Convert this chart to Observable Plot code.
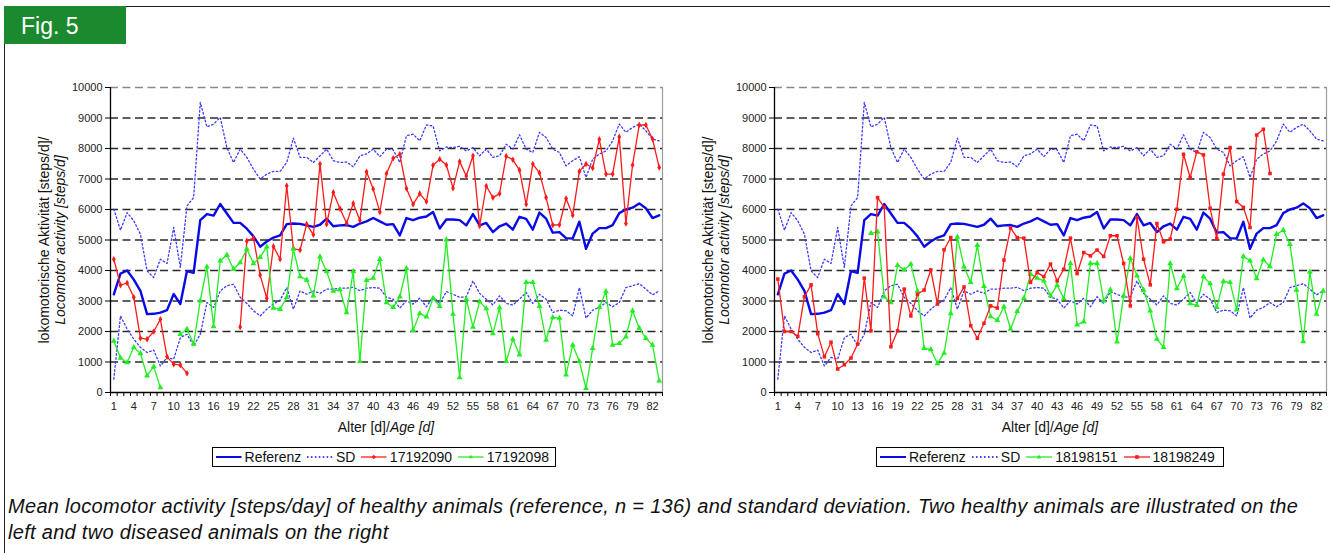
<!DOCTYPE html>
<html>
<head>
<meta charset="utf-8">
<script src="https://cdn.jsdelivr.net/npm/d3@7"></script>
<script src="https://cdn.jsdelivr.net/npm/@observablehq/plot@0.6"></script>
<style>
  html, body { margin: 0; padding: 0; background: #fff; }
  body { width: 1330px; height: 553px; position: relative; overflow: hidden; font-family: "Liberation Sans", Arial, sans-serif; }
  #frame { position: absolute; left: 4px; top: 6px; width: 1340px; height: 560px; border-left: 1.5px solid #222; border-top: 1.5px solid #222; }
  #fig { position: absolute; left: 4px; top: 6px; width: 122px; height: 38px; background: #1b8a2f; color: #fff; font-size: 23px; line-height: 38px; padding-top: 1px; box-sizing: border-box; padding-left: 17px; }
  .chart { position: absolute; top: 0; }
  .ytitle { position: absolute; width: 340px; height: 34px; transform: rotate(-90deg); transform-origin: center center; text-align: center; font-size: 14px; line-height: 16px; color: #111; }
  .xtitle { position: absolute; top: 419px; width: 300px; text-align: center; font-size: 14px; color: #111; }
  .legend { position: absolute; top: 447px; height: 20px; border: 1px solid #000; box-sizing: border-box; display: flex; align-items: center; font-size: 14px; color: #111; padding-left: 3px; white-space: nowrap; }
  .legend span.lab { margin-right: 6px; }
  .legend svg { margin-right: 3px; }
  #caption { position: absolute; left: 8px; top: 493px; font-size: 20px; letter-spacing: 0.3px; font-style: italic; line-height: 26px; color: #111; white-space: nowrap; }
</style>
</head>
<body>
<div id="frame"></div>
<div id="fig">Fig. 5</div>
<div id="left" class="chart" style="left:0px"></div>
<div id="right" class="chart" style="left:664px"></div>
<div class="ytitle" style="left:-117px; top:223px">lokomotorische Aktivität [steps/d]/<br><i>Locomotor activity [steps/d]</i></div>
<div class="ytitle" style="left:547px; top:223px">lokomotorische Aktivität [steps/d]/<br><i>Locomotor activity [steps/d]</i></div>
<div class="xtitle" style="left:236px">Alter [d]/<i>Age [d]</i></div>
<div class="xtitle" style="left:900px">Alter [d]/<i>Age [d]</i></div>
<div id="legL" class="legend" style="left:212px; width:344px"></div>
<div id="legR" class="legend" style="left:876px; width:348px"></div>
<div id="caption">Mean locomotor activity [steps/day] of healthy animals (reference, n = 136) and standard deviation. Two healthy animals are illustrated on the<br>left and two diseased animals on the right</div>
<script>
// ---- data (days 1..83) ----
const days = d3.range(1, 84);
const xLabelTicks = d3.range(1, 84, 3);
const yTicks = [0, 1000, 2000, 3000, 4000, 5000, 6000, 7000, 8000, 9000, 10000];

const referenz = [3220,3900,4000,3700,3330,2570,2580,2620,2700,3230,
  2900,3980,3920,5650,5850,5800,6180,5870,5560,5560,
  5370,5120,4780,4950,5080,5150,5520,5540,5530,5480,
  5430,5500,5700,5450,5480,5490,5430,5540,5610,5720,
  5610,5500,5520,5150,5720,5650,5730,5770,5920,5380,
  5670,5670,5650,5480,5850,5480,5560,5260,5450,5540,
  5340,5760,5690,5340,5900,5700,5240,5260,5060,5050,
  5600,4710,5210,5390,5390,5490,5880,6000,6060,6200,
  6040,5720,5810];
const sdUpper = [6010,5320,5900,5630,5190,3990,3770,4370,4230,5410,
  4100,6120,6390,9510,8710,8800,9020,8030,7540,7980,
  7710,7320,7000,7160,7250,7250,7540,8340,7710,7710,
  7540,7760,7980,7600,7540,7560,7400,7760,7820,7980,
  7730,7980,7960,7540,8420,8470,8250,8770,8740,7920,
  8050,8030,8070,7920,8030,7760,7980,7710,7760,8140,
  7980,8450,7980,7870,8530,8360,7980,7870,7430,7600,
  7730,7050,7650,7820,7920,8250,8800,8530,8690,8800,
  8580,8310,8250];
const sdLower = [440,2510,2080,1750,1480,1310,1390,870,1150,1090,
  1800,1910,1530,1910,2950,2790,3330,3500,3550,3120,
  2920,2680,2510,2730,2900,3030,3440,2730,3330,3220,
  3330,3250,3390,3390,3420,3420,3450,3340,3420,3440,
  3420,3120,3060,2770,3010,2900,3090,2810,3140,2920,
  3310,3220,3120,3140,3660,3250,3060,2870,3170,2920,
  2870,3060,3280,2920,3220,3060,2620,2700,2680,2510,
  3440,2440,2700,2790,2950,2810,2950,3440,3500,3570,
  3390,3200,3330];
const a17192090 = [4370,3520,3590,3120,1780,1750,2000,2400,1170,930,
  900,630,null,null,null,null,null,null,null,2150,
  4970,5060,3850,3090,4790,4370,6780,4720,4670,5520,
  5170,7490,5520,6560,6030,5550,6200,5650,7240,6670,
  5920,7180,7680,7810,6690,6170,6520,6260,7450,7650,
  7460,6700,7570,7100,7760,5460,6770,6390,6520,7750,
  7630,7290,6170,7490,7200,6390,5490,5500,6360,5810,
  7250,7490,7360,8300,7160,7160,8380,5540,7460,8770,
  8770,8310,7380];
const a17192098 = [1690,1130,980,1480,1280,550,850,160,null,null,
  1910,2080,1590,3010,4120,2160,4320,4510,4040,4260,
  4700,4230,4430,4780,2770,2730,3120,4700,3800,3690,
  3170,4450,3970,3330,3370,2620,3970,1020,3680,3750,
  4370,2950,2790,3140,4070,2040,2590,2480,3090,2830,
  5010,2570,490,3060,2150,2980,2750,1930,2780,1020,
  1750,1240,3610,3610,2830,1720,2460,2440,580,1560,
  1020,140,1450,2790,3310,1560,1610,1830,2680,2110,
  1780,1560,380];
const a18198151 = [null,null,null,null,null,null,null,null,null,null,
  null,null,null,null,5220,5270,3140,2950,4170,4020,
  4210,3330,1450,1410,950,1290,2590,5100,4120,3610,
  4830,3480,2490,2370,2810,2080,2660,3090,3880,3750,
  3660,3170,3520,3080,4230,2220,2320,4230,4230,3010,
  3370,1660,3170,4400,3830,3360,2680,1750,1480,4230,
  3410,3820,2920,2860,3800,3570,2790,3640,3610,2710,
  4460,4320,3740,4350,4130,5190,5320,4860,3360,1670,
  3950,2570,3330];
const a18198249 = [3720,2000,2000,1840,3140,3530,1930,1170,1650,770,
  910,1130,1590,3750,2020,6390,6070,1500,2020,3390,
  2510,3220,3360,4020,2900,4680,5080,3080,3460,2190,
  1780,2270,2840,2770,4340,5390,5080,5060,3610,3930,
  3800,4210,3660,4040,5060,3900,4590,4480,4670,4460,
  5140,5140,4230,2840,5740,4370,3530,5540,4940,5030,
  6010,7810,7050,7890,7790,6040,5050,7160,8030,6260,
  6070,5410,8440,8630,7180,null,null,null,null,null,
  null,null,null];

const BLUE = "#0a0ae6", SDBLUE = "#3b3bff", RED = "#ff1a1a", GREEN = "#22ee22";

function rows(arr) { return days.map((d, i) => ({day: d, v: arr[i] == null ? NaN : arr[i]})); }

function chart(animals, width, marginRight) {
  const boundaries = d3.range(0.5, 84, 1);
  const marks = [
    Plot.ruleY([1000,2000,3000,4000,5000,6000,7000,8000,9000], {stroke: "#2a2a2a", strokeWidth: 1.3, strokeDasharray: "8,4.5"}),
    Plot.ruleY([10000], {stroke: "#8a8a8a", strokeWidth: 1.3, strokeDasharray: "8,4.5"}),
    Plot.ruleX([83.5], {stroke: "#9a9a9a", strokeWidth: 1.2}),
    Plot.line(rows(referenz), {x: "day", y: "v", stroke: BLUE, strokeWidth: 2.4}),
    Plot.line(rows(sdUpper), {x: "day", y: "v", stroke: SDBLUE, strokeWidth: 1.3, strokeDasharray: "1.6,2.4"}),
    Plot.line(rows(sdLower), {x: "day", y: "v", stroke: SDBLUE, strokeWidth: 1.3, strokeDasharray: "1.6,2.4"})
  ];
  for (const a of animals) {
    marks.push(Plot.line(rows(a.data), {x: "day", y: "v", stroke: a.color, strokeWidth: 1.3}));
    marks.push(Plot.dot(rows(a.data), {x: "day", y: "v", fill: a.color, symbol: a.symbol, r: a.r}));
  }
  marks.push(
    Plot.ruleX([0.5], {stroke: "#000", strokeWidth: 1.3}),
    Plot.ruleY([0], {stroke: "#000", strokeWidth: 1.3}),
    Plot.axisY({ticks: yTicks, tickSize: 5, tickPadding: 3, tickFormat: d => String(d), label: null, stroke: "#000"}),
    Plot.axisX({ticks: boundaries, tickSize: 4, tickFormat: () => "", label: null, stroke: "#000"}),
    Plot.axisX({ticks: xLabelTicks, tickSize: 0, tickPadding: 10, tickFormat: d => String(d), label: null})
  );
  return Plot.plot({
    width, height: 440,
    marginLeft: 110, marginRight, marginTop: 87, marginBottom: 48,
    x: {domain: [0.5, 83.5]},
    y: {domain: [0, 10000]},
    style: {fontFamily: "'Liberation Sans', Arial, sans-serif", fontSize: "11px", color: "#222", background: "transparent", overflow: "visible"},
    marks
  });
}

document.getElementById("left").appendChild(chart([
  {data: a17192090, color: RED, symbol: "diamond", r: 2},
  {data: a17192098, color: GREEN, symbol: "triangle", r: 2.2}
], 664, 2));
document.getElementById("right").appendChild(chart([
  {data: a18198151, color: GREEN, symbol: "triangle", r: 2.2},
  {data: a18198249, color: RED, symbol: "square", r: 2}
], 666, 4));

// legends
function sample(kind, color, symbol) {
  const w = 26, h = 10;
  let s = `<svg width="${w}" height="${h}" viewBox="0 0 ${w} ${h}">`;
  if (kind === "solid") s += `<line x1="0" y1="5" x2="${w}" y2="5" stroke="${color}" stroke-width="2"/>`;
  else if (kind === "dotted") s += `<line x1="0" y1="5" x2="${w}" y2="5" stroke="${color}" stroke-width="1.3" stroke-dasharray="1.6,2.4"/>`;
  else {
    s += `<line x1="0" y1="5" x2="${w}" y2="5" stroke="${color}" stroke-width="1.3"/>`;
    if (symbol === "triangle") s += `<path d="M13,2.6 L15.2,6.4 L10.8,6.4 Z" fill="${color}"/>`;
    else if (symbol === "square") s += `<rect x="11.2" y="3.2" width="3.6" height="3.6" fill="${color}"/>`;
    else s += `<path d="M13,2.8 L15.2,5 L13,7.2 L10.8,5 Z" fill="${color}"/>`;
  }
  return s + `</svg>`;
}
function legend(id, items) {
  document.getElementById(id).innerHTML = items.map(it =>
    sample(it.kind, it.color, it.symbol) + `<span class="lab">${it.label}</span>`).join("");
}
legend("legL", [
  {kind: "solid", color: BLUE, label: "Referenz"},
  {kind: "dotted", color: BLUE, label: "SD"},
  {kind: "marker", color: RED, symbol: "diamond", label: "17192090"},
  {kind: "marker", color: GREEN, symbol: "triangle", label: "17192098"}
]);
legend("legR", [
  {kind: "solid", color: BLUE, label: "Referenz"},
  {kind: "dotted", color: BLUE, label: "SD"},
  {kind: "marker", color: GREEN, symbol: "triangle", label: "18198151"},
  {kind: "marker", color: RED, symbol: "square", label: "18198249"}
]);
</script>
</body>
</html>
